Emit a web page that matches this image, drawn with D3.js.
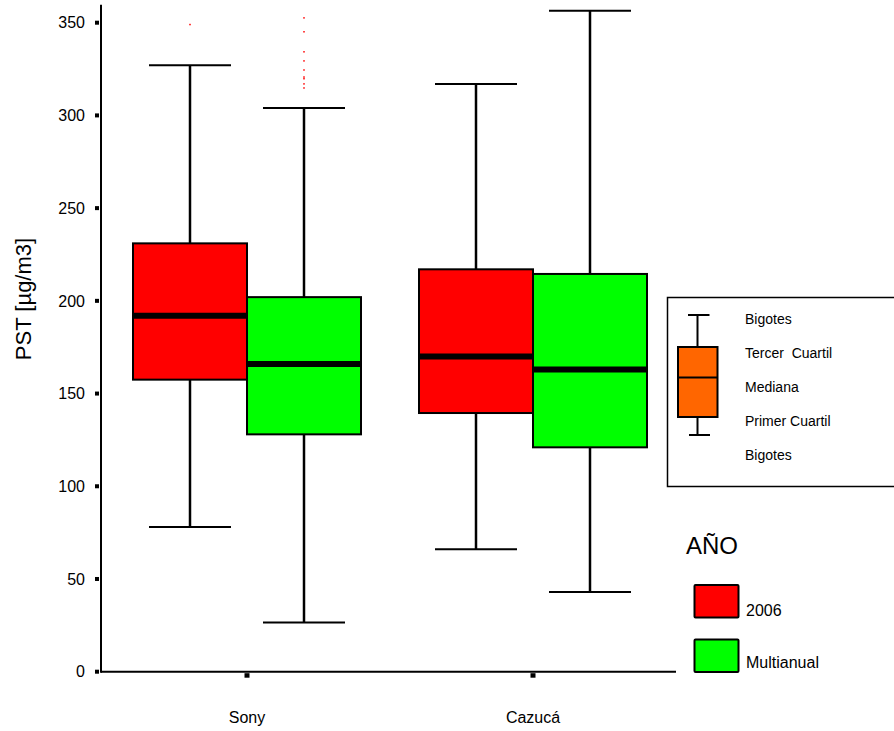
<!DOCTYPE html>
<html>
<head>
<meta charset="utf-8">
<script src="https://cdn.jsdelivr.net/npm/d3@7"></script>
<style>
  html, body { margin: 0; padding: 0; background: #fff; }
  svg { display: block; font-family: "Liberation Sans", Arial, Helvetica, sans-serif; }
</style>
</head>
<body>
<svg id="chart" width="894" height="731"></svg>
<script>
// Sites and series
const sites = ["Sony", "Cazucá"];
const series = ["2006", "Multianual"];
const seriesColors = ["#ff0000", "#00ff00"];

// Box statistics per site: [lower whisker, Q1, median, Q3, upper whisker]
const stats2006 = [
  [78, 157.5, 192, 231, 327],
  [66, 139.5, 170, 217, 317]
];
const statsMultianual = [
  [26.5, 128, 166, 202, 304],
  [43, 121, 163, 214.5, 356.5]
];

// Outlying points, per site and series
const outliers2006 = [[349], []];
const outliersMultianual = [[352.6, 345.1, 334.3, 329.4, 324.5, 320.7, 319.8, 317.0, 314.8], []];

const yTicks = [0, 50, 100, 150, 200, 250, 300, 350];
const yTitle = "PST [µg/m3]";
const legendTitle = "AÑO";
const keyLabels = ["Bigotes", "Tercer  Cuartil", "Mediana", "Primer Cuartil", "Bigotes"];

const svg = d3.select("#chart");

const y = d3.scaleLinear().domain([0, 350]).range([671.7, 22.7]);
const x = d3.scaleBand().domain(sites).range([104, 676]);
const inner = d3.scaleBand().domain(series).range([-114, 114]);

const axisX = 101;

// Boxes
const allStats = [stats2006, statsMultianual];
const allOutliers = [outliers2006, outliersMultianual];
const boxes = [];
sites.forEach((s, si) => {
  series.forEach((se, ki) => {
    boxes.push({ site: s, series: se, color: seriesColors[ki], v: allStats[ki][si], out: allOutliers[ki][si] });
  });
});

const g = svg.append("g");
const capHalf = 41;
boxes.forEach(b => {
  const cx = x(b.site) + x.bandwidth() / 2;
  const x0 = cx + inner(b.series);
  const w = inner.bandwidth();
  const mid = x0 + w / 2;
  const [lo, q1, med, q3, hi] = b.v;
  // whiskers
  g.append("line").attr("x1", mid).attr("x2", mid).attr("y1", y(hi)).attr("y2", y(q3))
    .attr("stroke", "#000").attr("stroke-width", 2.5);
  g.append("line").attr("x1", mid).attr("x2", mid).attr("y1", y(q1)).attr("y2", y(lo))
    .attr("stroke", "#000").attr("stroke-width", 2.5);
  g.append("line").attr("x1", mid - capHalf).attr("x2", mid + capHalf).attr("y1", y(hi)).attr("y2", y(hi))
    .attr("stroke", "#000").attr("stroke-width", 2);
  g.append("line").attr("x1", mid - capHalf).attr("x2", mid + capHalf).attr("y1", y(lo)).attr("y2", y(lo))
    .attr("stroke", "#000").attr("stroke-width", 2);
  // box
  g.append("rect").attr("x", x0).attr("y", y(q3)).attr("width", w).attr("height", y(q1) - y(q3))
    .attr("fill", b.color).attr("stroke", "#000").attr("stroke-width", 2);
  // median
  g.append("line").attr("x1", x0).attr("x2", x0 + w).attr("y1", y(med)).attr("y2", y(med))
    .attr("stroke", "#000").attr("stroke-width", 6);
  // outliers
  b.out.forEach(v => {
    g.append("rect").attr("x", mid - 0.75).attr("y", y(v) - 0.75).attr("width", 1.5).attr("height", 1.5)
      .attr("fill", "#ff0000");
  });
});

// Axes
svg.append("line").attr("x1", axisX).attr("x2", axisX).attr("y1", y(359.7)).attr("y2", y(0) + 1)
  .attr("stroke", "#000").attr("stroke-width", 2);
svg.append("line").attr("x1", axisX).attr("x2", x.range()[1]).attr("y1", y(0)).attr("y2", y(0))
  .attr("stroke", "#000").attr("stroke-width", 2);

yTicks.forEach(t => {
  svg.append("rect").attr("x", 95).attr("y", y(t) - 2).attr("width", 4).attr("height", 4).attr("fill", "#000");
  svg.append("text").attr("x", 85).attr("y", y(t)).attr("dy", "0.36em").attr("text-anchor", "end")
    .attr("font-size", 16).attr("fill", "#000").text(t);
});

sites.forEach(s => {
  const cx = x(s) + x.bandwidth() / 2;
  svg.append("rect").attr("x", cx - 2.5).attr("y", y(0) + 1.5).attr("width", 5).attr("height", 4.5).attr("fill", "#000");
  svg.append("text").attr("x", cx).attr("y", 723).attr("text-anchor", "middle")
    .attr("font-size", 16).attr("fill", "#000").text(s);
});

svg.append("text").attr("transform", "translate(31,299) rotate(-90)").attr("text-anchor", "middle")
  .attr("font-size", 22).attr("fill", "#000").text(yTitle);

// Box key
const key = svg.append("g");
key.append("rect").attr("x", 667.5).attr("y", 297.5).attr("width", 240).attr("height", 189)
  .attr("fill", "#fff").attr("stroke", "#000").attr("stroke-width", 1.5);
key.append("line").attr("x1", 697.5).attr("x2", 697.5).attr("y1", 315).attr("y2", 435).attr("stroke", "#000").attr("stroke-width", 2);
key.append("line").attr("x1", 688).attr("x2", 709.5).attr("y1", 315).attr("y2", 315).attr("stroke", "#000").attr("stroke-width", 2);
key.append("line").attr("x1", 689).attr("x2", 710).attr("y1", 435).attr("y2", 435).attr("stroke", "#000").attr("stroke-width", 2);
key.append("rect").attr("x", 678).attr("y", 347).attr("width", 39.5).attr("height", 70)
  .attr("fill", "#ff6600").attr("stroke", "#000").attr("stroke-width", 2);
key.append("line").attr("x1", 678).attr("x2", 717.5).attr("y1", 377.5).attr("y2", 377.5).attr("stroke", "#000").attr("stroke-width", 2);
const keyY = [319.5, 353, 387.5, 421.5, 455.5];
keyLabels.forEach((t, i) => {
  key.append("text").attr("x", 745).attr("y", keyY[i]).attr("dy", "0.35em")
    .attr("font-size", 14).attr("fill", "#000").attr("xml:space", "preserve").style("white-space", "pre").text(t);
});

// Series legend
svg.append("text").attr("x", 686).attr("y", 554).attr("font-size", 24).attr("fill", "#000").text(legendTitle);
const swY = [585, 639.5];
const swLabelY = [616, 667.5];
series.forEach((s, i) => {
  svg.append("rect").attr("x", 694.5).attr("y", swY[i]).attr("width", 44).attr("height", 32.5).attr("rx", 1)
    .attr("fill", seriesColors[i]).attr("stroke", "#000").attr("stroke-width", 2);
  svg.append("text").attr("x", 746).attr("y", swLabelY[i]).attr("font-size", 16).attr("fill", "#000").text(s);
});
</script>
</body>
</html>
